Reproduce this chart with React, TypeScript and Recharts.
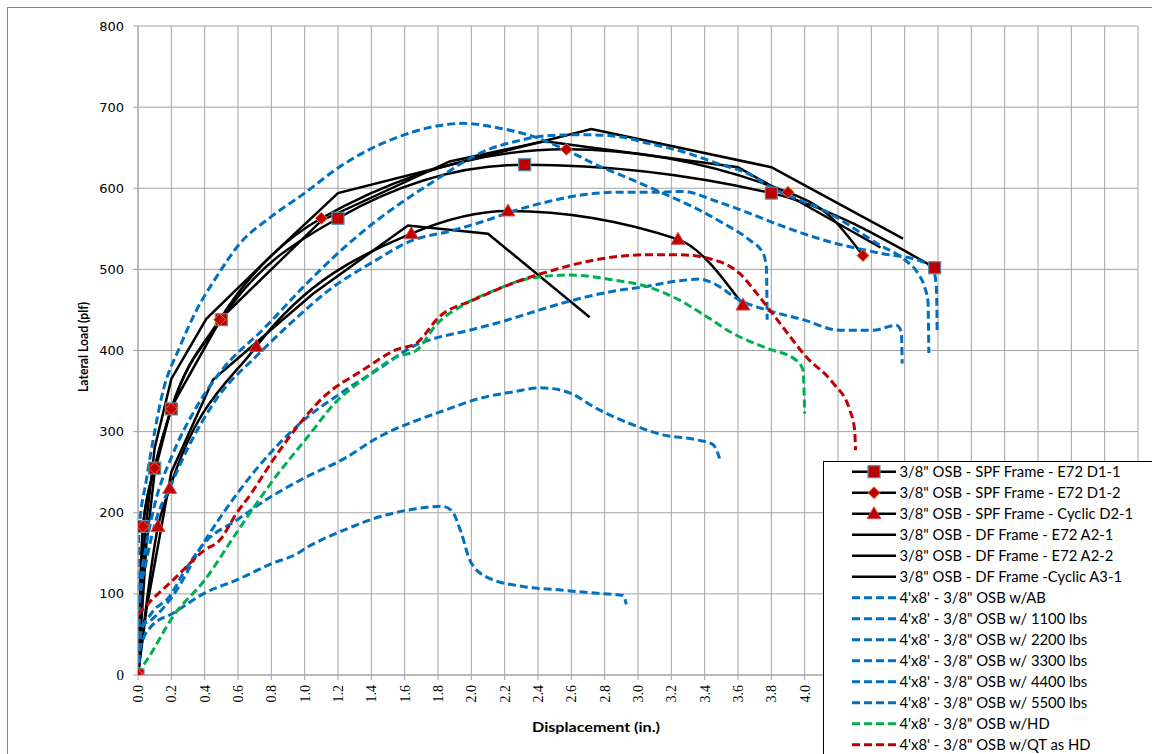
import React from 'react';
import { LineChart, Line, XAxis, YAxis, CartesianGrid } from 'recharts';

type P = { x: number; y: number; m?: boolean };

const xTicks = [0, 0.2, 0.4, 0.6, 0.8, 1.0, 1.2, 1.4, 1.6, 1.8, 2.0, 2.2, 2.4, 2.6, 2.8, 3.0, 3.2, 3.4, 3.6, 3.8, 4.0, 4.2, 4.4, 4.6, 4.8, 5.0, 5.2, 5.4, 5.6, 5.8, 6.0];
const yTicks = [0, 100, 200, 300, 400, 500, 600, 700, 800];

const spfD1_1: P[] = [
  { x: 0, y: 0, m: true }, { x: 0.03, y: 183, m: true }, { x: 0.1, y: 255, m: true }, { x: 0.2, y: 328, m: true },
  { x: 0.5, y: 438, m: true }, { x: 1.2, y: 563, m: true }, { x: 2.32, y: 629, m: true }, { x: 3.8, y: 594, m: true },
  { x: 4.78, y: 502, m: true },
];
const spfD1_2: P[] = [
  { x: 0, y: 0, m: true }, { x: 0.03, y: 183, m: true }, { x: 0.1, y: 255, m: true }, { x: 0.2, y: 328, m: true },
  { x: 0.49, y: 438, m: true }, { x: 1.1, y: 563, m: true }, { x: 2.57, y: 648, m: true }, { x: 3.9, y: 595, m: true },
  { x: 4.15, y: 566 }, { x: 4.35, y: 517, m: true },
];
const spfD2_1: P[] = [
  { x: 0, y: 0, m: true }, { x: 0.12, y: 183, m: true }, { x: 0.19, y: 230, m: true }, { x: 0.71, y: 405, m: true },
  { x: 1.64, y: 544, m: true }, { x: 2.22, y: 572, m: true }, { x: 3.24, y: 537, m: true }, { x: 3.63, y: 456, m: true },
];
const dfA2_1: P[] = [
  { x: 0, y: 0 }, { x: 0.04, y: 170 }, { x: 0.1, y: 280 }, { x: 0.2, y: 365 }, { x: 0.41, y: 439 }, { x: 0.8, y: 517 },
  { x: 1.2, y: 594 }, { x: 2.72, y: 673 }, { x: 3.8, y: 626 }, { x: 4.59, y: 538 },
];
const dfA2_2: P[] = [
  { x: 0, y: 0 }, { x: 0.05, y: 160 }, { x: 0.1, y: 250 }, { x: 0.2, y: 330 }, { x: 0.5, y: 440 }, { x: 1.1, y: 560 },
  { x: 1.87, y: 633 }, { x: 2.44, y: 658 }, { x: 3.6, y: 626 }, { x: 4.455, y: 527 },
];
const dfA3_1: P[] = [
  { x: 0, y: 0 }, { x: 0.05, y: 80 }, { x: 0.2, y: 250 }, { x: 0.45, y: 364 }, { x: 1.05, y: 470 }, { x: 1.62, y: 554 },
  { x: 2.1, y: 544 }, { x: 2.71, y: 441 },
];
const osbAB: P[] = [
  { x: 0, y: 0 }, { x: 0.016, y: 35 }, { x: 0.08, y: 60 }, { x: 0.21, y: 76 }, { x: 0.4, y: 101 }, { x: 0.59, y: 117 },
  { x: 0.81, y: 138 }, { x: 0.94, y: 148 }, { x: 1.02, y: 158 }, { x: 1.24, y: 179 }, { x: 1.45, y: 195 }, { x: 1.67, y: 205 },
  { x: 1.82, y: 208 }, { x: 1.88, y: 203 }, { x: 1.94, y: 175 }, { x: 1.99, y: 142 }, { x: 2.09, y: 121 }, { x: 2.31, y: 109 },
  { x: 2.52, y: 105 }, { x: 2.74, y: 101 }, { x: 2.91, y: 98 }, { x: 2.93, y: 87 },
];
const osb1100: P[] = [
  { x: 0, y: 0 }, { x: 0.016, y: 51 }, { x: 0.08, y: 76 }, { x: 0.19, y: 97 }, { x: 0.27, y: 125 }, { x: 0.4, y: 163 },
  { x: 0.6, y: 192 }, { x: 0.8, y: 220 }, { x: 1.0, y: 243 }, { x: 1.24, y: 267 }, { x: 1.45, y: 294 }, { x: 1.65, y: 312 },
  { x: 1.85, y: 327 }, { x: 2.05, y: 341 }, { x: 2.25, y: 349 }, { x: 2.41, y: 354 }, { x: 2.49, y: 353 }, { x: 2.61, y: 346 },
  { x: 2.73, y: 331 }, { x: 2.95, y: 310 }, { x: 3.15, y: 296 }, { x: 3.35, y: 290 }, { x: 3.45, y: 284 }, { x: 3.49, y: 267 },
];
const osb2200: P[] = [
  { x: 0, y: 0 }, { x: 0.02, y: 60 }, { x: 0.08, y: 68 }, { x: 0.2, y: 95 }, { x: 0.4, y: 165 }, { x: 0.6, y: 225 },
  { x: 0.8, y: 275 }, { x: 1.0, y: 315 }, { x: 1.2, y: 345 }, { x: 1.45, y: 378 }, { x: 1.65, y: 405 }, { x: 1.75, y: 413 },
  { x: 1.99, y: 425 }, { x: 2.19, y: 436 }, { x: 2.41, y: 450 }, { x: 2.61, y: 462 }, { x: 2.85, y: 473 }, { x: 3.05, y: 479 },
  { x: 3.25, y: 486 }, { x: 3.37, y: 488 }, { x: 3.45, y: 483 }, { x: 3.61, y: 462 }, { x: 3.77, y: 450 }, { x: 3.99, y: 438 },
  { x: 4.21, y: 425 }, { x: 4.41, y: 425 }, { x: 4.55, y: 431 }, { x: 4.58, y: 423 }, { x: 4.585, y: 384 },
];
const osb3300: P[] = [
  { x: 0, y: 0 }, { x: 0.01, y: 90 }, { x: 0.05, y: 140 }, { x: 0.1, y: 185 }, { x: 0.2, y: 235 }, { x: 0.3, y: 280 },
  { x: 0.47, y: 340 }, { x: 0.72, y: 395 }, { x: 0.95, y: 440 }, { x: 1.15, y: 475 }, { x: 1.4, y: 508 }, { x: 1.65, y: 536 },
  { x: 1.87, y: 547 }, { x: 2.07, y: 559 }, { x: 2.27, y: 573 }, { x: 2.47, y: 584 }, { x: 2.67, y: 592 }, { x: 2.87, y: 595 },
  { x: 3.07, y: 595 }, { x: 3.27, y: 596 }, { x: 3.47, y: 584 }, { x: 3.67, y: 569 }, { x: 3.87, y: 553 }, { x: 4.15, y: 534 },
  { x: 4.45, y: 520 }, { x: 4.7, y: 510 }, { x: 4.77, y: 500 }, { x: 4.79, y: 480 }, { x: 4.795, y: 425 },
];
const osb4400: P[] = [
  { x: 0, y: 0 }, { x: 0.01, y: 100 }, { x: 0.05, y: 160 }, { x: 0.1, y: 210 }, { x: 0.2, y: 268 }, { x: 0.35, y: 330 },
  { x: 0.5, y: 375 }, { x: 0.76, y: 428 }, { x: 1.0, y: 480 }, { x: 1.2, y: 520 }, { x: 1.4, y: 555 }, { x: 1.6, y: 585 },
  { x: 1.8, y: 612 }, { x: 1.95, y: 632 }, { x: 2.07, y: 645 }, { x: 2.27, y: 658 }, { x: 2.47, y: 665 }, { x: 2.67, y: 666 },
  { x: 2.87, y: 664 }, { x: 3.07, y: 655 }, { x: 3.27, y: 645 }, { x: 3.47, y: 631 }, { x: 3.67, y: 617 }, { x: 3.79, y: 602 },
  { x: 4.15, y: 569 }, { x: 4.45, y: 530 }, { x: 4.6, y: 512 }, { x: 4.68, y: 495 }, { x: 4.72, y: 478 }, { x: 4.74, y: 460 },
  { x: 4.745, y: 397 },
];
const osb5500: P[] = [
  { x: 0, y: 0 }, { x: 0.005, y: 175 }, { x: 0.05, y: 240 }, { x: 0.1, y: 300 }, { x: 0.142, y: 343 }, { x: 0.252, y: 405 },
  { x: 0.352, y: 450 }, { x: 0.472, y: 491 }, { x: 0.612, y: 532 }, { x: 0.8, y: 565 }, { x: 1.0, y: 594 }, { x: 1.2, y: 625 },
  { x: 1.4, y: 649 }, { x: 1.6, y: 666 }, { x: 1.8, y: 677 }, { x: 1.95, y: 680 }, { x: 2.17, y: 674 }, { x: 2.37, y: 664 },
  { x: 2.57, y: 647 }, { x: 2.77, y: 627 }, { x: 2.97, y: 610 }, { x: 3.17, y: 592 }, { x: 3.35, y: 575 }, { x: 3.51, y: 557 },
  { x: 3.67, y: 536 }, { x: 3.75, y: 520 }, { x: 3.77, y: 503 }, { x: 3.775, y: 438 },
];
const osbHD: P[] = [
  { x: 0, y: 0 }, { x: 0.016, y: 6 }, { x: 0.08, y: 27 }, { x: 0.21, y: 72 }, { x: 0.4, y: 117 }, { x: 0.59, y: 175 },
  { x: 0.81, y: 240 }, { x: 1.02, y: 294 }, { x: 1.19, y: 337 }, { x: 1.35, y: 364 }, { x: 1.55, y: 392 }, { x: 1.67, y: 400 },
  { x: 1.79, y: 432 }, { x: 1.95, y: 456 }, { x: 2.15, y: 475 }, { x: 2.35, y: 489 }, { x: 2.59, y: 493 }, { x: 2.85, y: 487 },
  { x: 3.05, y: 479 }, { x: 3.25, y: 462 }, { x: 3.41, y: 442 }, { x: 3.57, y: 421 }, { x: 3.77, y: 403 }, { x: 3.95, y: 388 },
  { x: 3.99, y: 376 }, { x: 4.0, y: 322 },
];
const osbQT: P[] = [
  { x: 0, y: 75 }, { x: 0.08, y: 92 }, { x: 0.21, y: 117 }, { x: 0.4, y: 154 }, { x: 0.49, y: 166 }, { x: 0.59, y: 199 },
  { x: 0.68, y: 224 }, { x: 0.81, y: 265 }, { x: 0.94, y: 302 }, { x: 1.11, y: 342 }, { x: 1.35, y: 376 }, { x: 1.55, y: 401 },
  { x: 1.67, y: 409 }, { x: 1.81, y: 442 }, { x: 2.01, y: 462 }, { x: 2.25, y: 483 }, { x: 2.49, y: 499 }, { x: 2.75, y: 512 },
  { x: 3.05, y: 518 }, { x: 3.25, y: 518 }, { x: 3.45, y: 512 }, { x: 3.61, y: 495 }, { x: 3.71, y: 471 }, { x: 3.85, y: 434 },
  { x: 4.01, y: 392 }, { x: 4.17, y: 360 }, { x: 4.27, y: 327 }, { x: 4.3, y: 302 }, { x: 4.305, y: 277 },
];

const legendLabels = [
  '3/8" OSB - SPF Frame - E72 D1-1',
  '3/8" OSB - SPF Frame - E72 D1-2',
  '3/8" OSB - SPF Frame - Cyclic D2-1',
  '3/8" OSB - DF Frame - E72 A2-1',
  '3/8" OSB - DF Frame - E72 A2-2',
  '3/8" OSB - DF Frame -Cyclic A3-1',
  "4'x8' - 3/8\" OSB w/AB",
  "4'x8' - 3/8\" OSB w/ 1100 lbs",
  "4'x8' - 3/8\" OSB w/ 2200 lbs",
  "4'x8' - 3/8\" OSB w/ 3300 lbs",
  "4'x8' - 3/8\" OSB w/ 4400 lbs",
  "4'x8' - 3/8\" OSB w/ 5500 lbs",
  "4'x8' - 3/8\" OSB w/HD",
  "4'x8' - 3/8\" OSB w/QT as HD",
];

const BLUE = '#0070C0';
const GREEN = '#00B050';
const RED = '#C00000';
const GRID = '#a3a3a3';
const DASH = '8 4';

const Square = ({ cx, cy }: { cx: number; cy: number }) => (
  <rect x={cx - 6} y={cy - 6} width={12} height={12} fill={RED} stroke="#4F8FA8" strokeWidth={1.2} />
);
const Diamond = ({ cx, cy }: { cx: number; cy: number }) => (
  <path d={`M${cx},${cy - 6}L${cx + 6},${cy}L${cx},${cy + 6}L${cx - 6},${cy}Z`} fill={RED} stroke="#E07A1F" strokeWidth={1} />
);
const Triangle = ({ cx, cy }: { cx: number; cy: number }) => (
  <path d={`M${cx},${cy - 7}L${cx + 7},${cy + 5}L${cx - 7},${cy + 5}Z`} fill={RED} stroke="#D05050" strokeWidth={1} />
);

const makeDot = (Shape: any) => (props: any) => {
  const { cx, cy, payload, index } = props;
  if (!payload || !payload.m || cx == null || cy == null) return <g key={`n-${index}`} />;
  return <g key={`m-${index}`}><Shape cx={cx} cy={cy} /></g>;
};

const XTick = (props: any) => {
  const { x, payload } = props;
  return (
    <text transform={`translate(${x},685) rotate(-90)`} textAnchor="end" dy="0.35em"
      fontFamily="Liberation Serif" fontSize={14} fill="#000">
      {Number(payload.value).toFixed(1)}
    </text>
  );
};

const YTick = (props: any) => {
  const { y, payload } = props;
  const v = payload.value;
  return (
    <text x={124} y={y} dy={4.5} textAnchor="end"
      fontFamily={v === 0 ? 'Liberation Serif' : 'DejaVu Sans'} fontSize={v === 0 ? 15 : 13} fill="#000">
      {v}
    </text>
  );
};

type SeriesDef = { data: P[]; color: string; dashed: boolean; smooth: boolean; shape?: any };
const series: SeriesDef[] = [
  { data: spfD1_1, color: '#000', dashed: false, smooth: true, shape: Square },
  { data: spfD1_2, color: '#000', dashed: false, smooth: true, shape: Diamond },
  { data: spfD2_1, color: '#000', dashed: false, smooth: true, shape: Triangle },
  { data: dfA2_1, color: '#000', dashed: false, smooth: false },
  { data: dfA2_2, color: '#000', dashed: false, smooth: false },
  { data: dfA3_1, color: '#000', dashed: false, smooth: false },
  { data: osbAB, color: BLUE, dashed: true, smooth: true },
  { data: osb1100, color: BLUE, dashed: true, smooth: true },
  { data: osb2200, color: BLUE, dashed: true, smooth: true },
  { data: osb3300, color: BLUE, dashed: true, smooth: true },
  { data: osb4400, color: BLUE, dashed: true, smooth: true },
  { data: osb5500, color: BLUE, dashed: true, smooth: true },
  { data: osbHD, color: GREEN, dashed: true, smooth: true },
  { data: osbQT, color: RED, dashed: true, smooth: true },
];

export default function App() {
  const legX = 823.5;
  const legY = 461.5;
  return (
    <div style={{ position: 'absolute', left: 0, top: 0, width: 1152, height: 754, overflow: 'hidden', background: '#fff' }}>
      <div style={{ position: 'absolute', left: 7, top: 7, width: 1200, height: 800, border: '1px solid #8a8a8a' }} />
      <div style={{ position: 'absolute', left: 0, top: 0 }}>
        <LineChart width={1152} height={754} margin={{ top: 26, right: 14, bottom: 0, left: 0 }}>
          <CartesianGrid stroke={GRID} strokeWidth={1} />
          <XAxis type="number" dataKey="x" domain={[0, 6]} ticks={xTicks} interval={0} height={79}
            tick={<XTick />} tickSize={5} tickLine={{ stroke: GRID }} axisLine={{ stroke: GRID }} allowDataOverflow />
          <YAxis type="number" dataKey="y" domain={[0, 800]} ticks={yTicks} interval={0} width={138}
            tick={<YTick />} tickSize={5} tickLine={{ stroke: GRID }} axisLine={{ stroke: GRID }} allowDataOverflow />
          {series.map((s, i) => (
            <Line key={i} data={s.data} dataKey="y" type={s.smooth ? 'monotone' : 'linear'}
              stroke={s.color} strokeWidth={s.dashed ? 3 : 2.5} strokeDasharray={s.dashed ? DASH : undefined}
              dot={s.shape ? makeDot(s.shape) : false} activeDot={false} isAnimationActive={false} legendType="none" />
          ))}
        </LineChart>
      </div>
      <svg width={1152} height={754} style={{ position: 'absolute', left: 0, top: 0, pointerEvents: 'none' }}>
        <text transform="translate(87.5,347) rotate(-90)" textAnchor="middle" fontFamily="Lato" fontWeight="bold"
          fontSize={13} textLength={90} lengthAdjust="spacingAndGlyphs" fill="#000">Lateral Load (plf)</text>
        <text x={596} y={731.5} textAnchor="middle" fontFamily="Lato" fontWeight="bold" fontSize={14}
          textLength={128} lengthAdjust="spacingAndGlyphs" fill="#000">Displacement (in.)</text>
        <rect x={legX} y={legY} width={400} height={400} fill="#fff" stroke="#000" strokeWidth={1} />
        {legendLabels.map((label, i) => {
          const s = series[i];
          const cy = 471.7 + 21 * i;
          const Shape = s.shape;
          return (
            <g key={i}>
              <line x1={852} x2={896} y1={cy} y2={cy} stroke={s.color} strokeWidth={s.dashed ? 3 : 2.5}
                strokeDasharray={s.dashed ? DASH : undefined} />
              {Shape ? <Shape cx={874} cy={cy} /> : null}
              <text x={899.5} y={cy + 5} fontFamily="Lato" fontSize={14.8} fill="#000">{label}</text>
            </g>
          );
        })}
      </svg>
    </div>
  );
}
